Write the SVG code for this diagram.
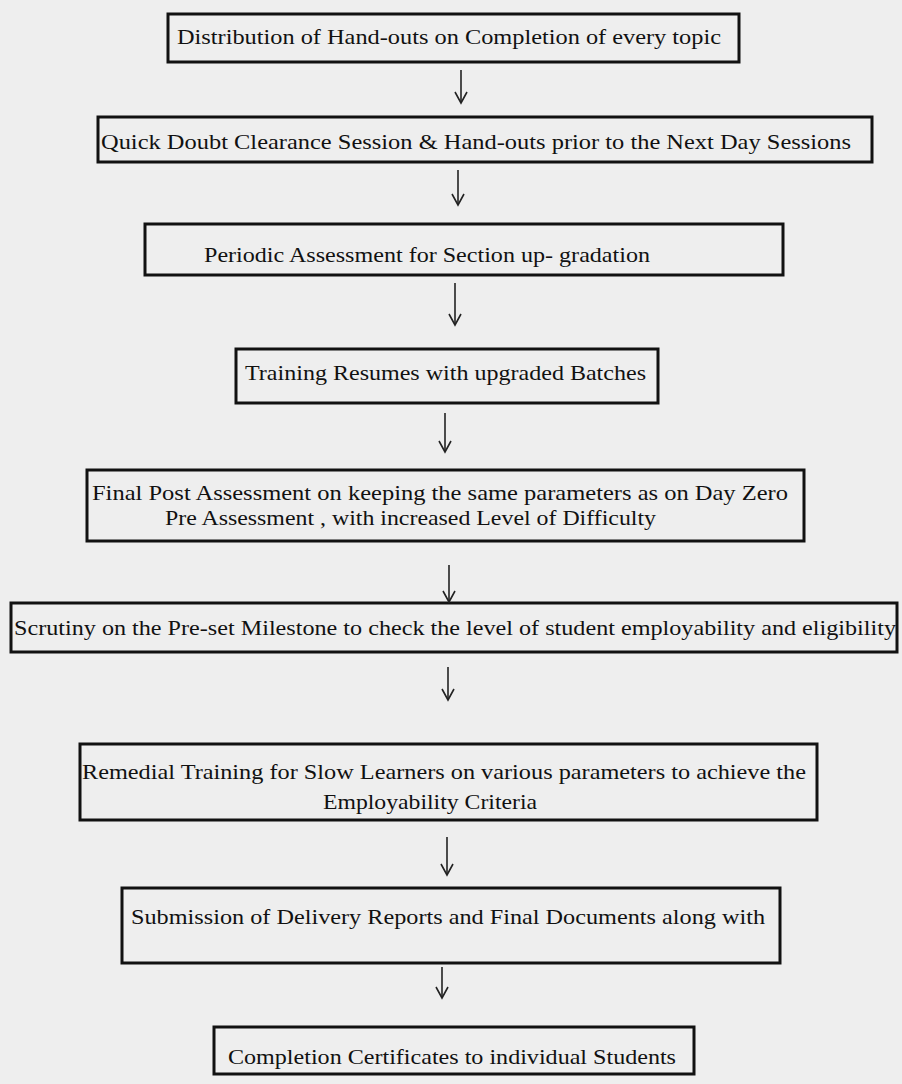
<svg xmlns="http://www.w3.org/2000/svg" width="902" height="1084" viewBox="0 0 902 1084">
<style>
.box{fill:none;stroke:#111;stroke-width:3}
.t{font-family:"Liberation Serif","Times New Roman",serif;font-size:22px;fill:#111}
.c line{stroke:#222;stroke-width:1.6}
.c polyline{fill:none;stroke:#222;stroke-width:1.6}
</style>
<rect width="902" height="1084" fill="#eeeeee"/>
<g id="n1"><rect class="box" x="168" y="14" width="571" height="48"/><text class="t" x="177" y="44" textLength="544" lengthAdjust="spacingAndGlyphs">Distribution of Hand-outs on Completion of every topic</text></g>
<g id="n2"><rect class="box" x="98" y="117" width="774" height="45"/><text class="t" x="101" y="149" textLength="750" lengthAdjust="spacingAndGlyphs">Quick Doubt Clearance Session &amp; Hand-outs prior to the Next Day Sessions</text></g>
<g id="n3"><rect class="box" x="145" y="224" width="638" height="51"/><text class="t" x="204" y="262" textLength="446" lengthAdjust="spacingAndGlyphs">Periodic Assessment for Section up- gradation</text></g>
<g id="n4"><rect class="box" x="236" y="349" width="422" height="54"/><text class="t" x="245" y="380" textLength="401" lengthAdjust="spacingAndGlyphs">Training Resumes with upgraded Batches</text></g>
<g id="n5"><rect class="box" x="87" y="470" width="717" height="71"/><text class="t" x="92" y="500" textLength="696" lengthAdjust="spacingAndGlyphs">Final Post Assessment on keeping the same parameters as on Day Zero</text><text class="t" x="165" y="525" textLength="491" lengthAdjust="spacingAndGlyphs">Pre Assessment , with increased Level of Difficulty</text></g>
<g id="n6"><rect class="box" x="11" y="603" width="886" height="49"/><text class="t" x="14" y="635" textLength="882" lengthAdjust="spacingAndGlyphs">Scrutiny on the Pre-set Milestone to check the level of student employability and eligibility</text></g>
<g id="n7"><rect class="box" x="80" y="744" width="737" height="76"/><text class="t" x="82" y="779" textLength="724" lengthAdjust="spacingAndGlyphs">Remedial Training for Slow Learners on various parameters to achieve the</text><text class="t" x="323" y="809" textLength="214" lengthAdjust="spacingAndGlyphs">Employability Criteria</text></g>
<g id="n8"><rect class="box" x="122" y="888" width="658" height="75"/><text class="t" x="131" y="924" textLength="634" lengthAdjust="spacingAndGlyphs">Submission of Delivery Reports and Final Documents along with</text></g>
<g id="n9"><rect class="box" x="214" y="1027" width="480" height="47"/><text class="t" x="228" y="1064" textLength="448" lengthAdjust="spacingAndGlyphs">Completion Certificates to individual Students</text></g>
<g id="connectors" class="c">
<line x1="461" y1="70" x2="461" y2="103"/><polyline points="455,92 461,103 467,92"/>
<line x1="458" y1="170" x2="458" y2="205"/><polyline points="452,194 458,205 464,194"/>
<line x1="455" y1="283" x2="455" y2="325"/><polyline points="449,314 455,325 461,314"/>
<line x1="445" y1="413" x2="445" y2="452"/><polyline points="439,441 445,452 451,441"/>
<line x1="449" y1="565" x2="449" y2="602"/><polyline points="443,591 449,602 455,591"/>
<line x1="448" y1="667" x2="448" y2="700"/><polyline points="442,689 448,700 454,689"/>
<line x1="447" y1="837" x2="447" y2="875"/><polyline points="441,864 447,875 453,864"/>
<line x1="442" y1="967" x2="442" y2="998"/><polyline points="436,987 442,998 448,987"/>
</g>
</svg>
